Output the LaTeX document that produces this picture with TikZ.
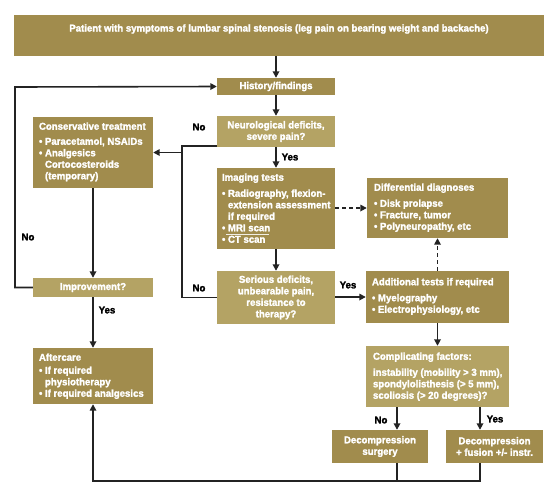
\documentclass[tikz,border=0pt]{standalone}
\usepackage{fontspec}
\setmainfont{Liberation Sans}[FakeStretch=0.96, BoldFont={Liberation Sans Bold}, BoldFeatures={FakeBold=2}]
\usetikzlibrary{arrows.meta,calc}
\definecolor{dkc}{RGB}{161,140,77}
\definecolor{ltc}{RGB}{180,163,100}
\definecolor{linec}{RGB}{35,35,35}
\newcommand\bx[6]{\node[#1, minimum width={(#5)-(#3)}, minimum height={(#6)-(#4)}] (#2) at ({((#3)+(#5))/2},{-((#4)+(#6))/2}) {};}
\newcommand\bl{\textbullet\ }
\newcommand\ind{\hphantom{\textbullet\ }}
\begin{document}
\begin{tikzpicture}[x=1pt,y=1pt,
  dk/.style={fill=dkc, draw=none, inner sep=0pt},
  lt/.style={fill=ltc, draw=none, inner sep=0pt},
  wtxt/.style={text=white, font=\fontsize{10}{11.5}\selectfont\bfseries, inner sep=0pt},
  ltxt/.style={wtxt, align=left, anchor=north west},
  ctxt/.style={wtxt, align=center},
  lbl/.style={text=black, font=\fontsize{10}{11.5}\selectfont\bfseries, inner sep=0pt},
  conn/.style={line width=1.6pt, draw=linec, -{Triangle[length=6.5pt,width=6.5pt]}},
  dconn/.style={conn, dash pattern=on 4pt off 3pt},
  plain/.style={line width=1.6pt, draw=linec}]
\useasboundingbox[fill=white] (0,0) rectangle (559,-499);

% boxes
\bx{dk}{top}{14}{15}{544}{56}
\bx{dk}{hist}{217}{78}{335}{95}
\bx{lt}{neuro}{217}{116}{335}{147}
\bx{dk}{cons}{33}{117}{153}{188}
\bx{dk}{imag}{217}{168}{335}{249}
\bx{dk}{diff}{367}{178}{508}{238}
\bx{lt}{impr}{33}{278}{153}{297}
\bx{lt}{ser}{217}{271}{335}{324}
\bx{dk}{add}{366}{271}{509}{323}
\bx{dk}{aft}{33}{348}{153}{404}
\bx{lt}{comp}{366}{346}{509}{407}
\bx{dk}{ds}{332}{430}{428}{463}
\bx{dk}{df}{446}{430}{543}{463}

% texts
\node[ctxt] (top-t) at (top.center |- 0,-29) {Patient with symptoms of lumbar spinal stenosis (leg pain on bearing weight and backache)};
\node[ctxt] (hist-t) at (hist.center) {History/findings};
\node[ctxt] (neuro-t) at (neuro.center) {Neurological deficits,\\severe pain?};
\node[ltxt] (cons-t) at ([shift={(6,-5.5)}]cons.north west) {Conservative treatment\\[3.5pt]\bl Paracetamol, NSAIDs\\\bl Analgesics\\\ind Cortocosteroids\\\ind (temporary)};
\node[ltxt] (imag-t) at ([shift={(5,-5.5)}]imag.north west) {Imaging tests\\[4.5pt]\bl Radiography, flexion-\\\ind extension assessment\\\ind if required\\\bl MRI scan\\\bl CT scan};
\node[ltxt] (diff-t) at ([shift={(7,-5.5)}]diff.north west) {Differential diagnoses\\[4.5pt]\bl Disk prolapse\\\bl Fracture, tumor\\\bl Polyneuropathy, etc};
\node[ctxt] (impr-t) at (impr.center) {Improvement?};
\node[ctxt] (ser-t) at (ser.center) {Serious deficits,\\unbearable pain,\\resistance to\\therapy?};
\node[ltxt] (add-t) at ([shift={(6,-7)}]add.north west) {Additional tests if required\\[4.5pt]\bl Myelography\\\bl Electrophysiology, etc};
\node[ltxt] (aft-t) at ([shift={(6,-5.5)}]aft.north west) {Aftercare\\[1.5pt]\bl If required\\\ind physiotherapy\\\bl If required analgesics};
\node[ltxt] (comp-t) at ([shift={(7,-6.5)}]comp.north west) {Complicating factors:\\[4.5pt]instability (mobility > 3 mm),\\spondylolisthesis (> 5 mm),\\scoliosis (> 20 degrees)?};
\node[ctxt] (ds-t) at (ds.center) {Decompression\\surgery};
\node[ctxt] (df-t) at (df.center) {Decompression\\+ fusion +/- instr.};
% thin line under MRI scan
\draw[white!85!dkc, line width=0.6pt] (226,-234) -- (269,-234);

% labels
\node[lbl] (l-no1) at (199,-127) {No};
\node[lbl] (l-yes1) at (290,-157) {Yes};
\node[lbl] (l-no2) at (28,-237) {No};
\node[lbl] (l-yes2) at (107,-310) {Yes};
\node[lbl] (l-no3) at (199,-288) {No};
\node[lbl] (l-yes3) at (348,-285) {Yes};
\node[lbl] (l-no4) at (381,-420) {No};
\node[lbl] (l-yes4) at (495,-419) {Yes};

% coordinates
\coordinate (loopL) at (15,-87);
\coordinate (nbr) at (182,-146);
\coordinate (bot) at (93,-481);
\coordinate (dsx) at (397,0);
\coordinate (dfx) at (480,0);

% connectors
\draw[conn] (top.south -| hist.north) -- (hist.north);
\draw[conn] (hist.south) -- (neuro.north);
\draw[conn] (impr.west) -| (loopL) -- (hist.west);
\draw[plain] (neuro.west |- nbr) -- (nbr) |- (ser.west);
\draw[conn] (nbr |- cons.east) -- (cons.east);
\draw[conn] (neuro.south) -- (imag.north);
\draw[conn] (cons.south) -- (impr.north);
\draw[conn] (impr.south) -- (aft.north);
\draw[conn] (imag.south) -- (ser.north);
\draw[dconn] (imag.east |- diff.west) -- (diff.west);
\draw[conn] (ser.east |- add.west) -- (add.west);
\draw[dconn] (add.north) -- (diff.south);
\draw[conn] (add.south) -- (comp.north);
\draw[conn] (comp.south -| dsx) -- (ds.north -| dsx);
\draw[conn] (comp.south -| dfx) -- (df.north -| dfx);
\draw[plain] (ds.south -| dsx) -- (bot -| dsx);
\draw[conn] (df.south -| dfx) |- (bot) -- (aft.south);
\end{tikzpicture}
\end{document}
